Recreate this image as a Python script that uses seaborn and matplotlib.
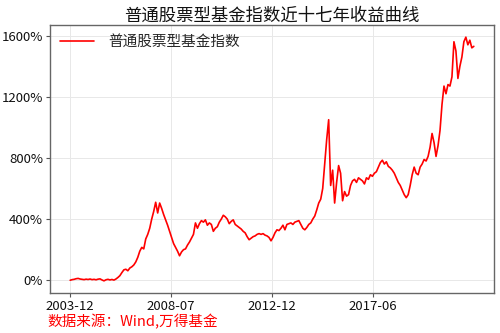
import matplotlib
matplotlib.use("Agg")
import matplotlib.pyplot as plt
from matplotlib.ticker import MultipleLocator, FuncFormatter
import seaborn as sns
import pandas as pd

title = "普通股票型基金指数近十七年收益曲线"
series_name = "普通股票型基金指数"
source_note = "数据来源：Wind,万得基金"
tick_labels = ["2003-12", "2008-07", "2012-12", "2017-06"]

# cumulative return (%) sampled at equal steps along the series
returns = [
    0, 4, 6, 10, 12, 8, 6, 4, 7, 5, 8, 4, 6, 3, 7, 9, 2, -4, 3, 6,
    2, 5, 1, 8, 18, 30, 50, 68, 72, 62, 80, 88, 100, 120, 150, 190, 215, 205, 270, 300,
    340, 400, 450, 510, 440, 505, 470, 430, 395, 360, 320, 280, 240, 215, 190, 160, 185, 200, 205, 230,
    250, 275, 300, 375, 340, 370, 390, 380, 395, 360, 375, 365, 320, 340, 350, 380, 400, 425, 415, 400,
    370, 385, 395, 365, 355, 345, 335, 320, 310, 285, 265, 275, 285, 290, 300, 305, 300, 305, 295, 290,
    280, 258, 280, 310, 330, 325, 340, 360, 330, 365, 370, 375, 365, 380, 385, 390, 365, 340, 330, 345,
    365, 375, 400, 420, 460, 505, 530, 600, 760, 920, 1050, 620, 720, 505, 640, 750, 700, 520, 580, 550,
    560, 620, 650, 660, 640, 670, 660, 650, 630, 670, 660, 690, 680, 700, 710, 740, 770, 785, 760, 775,
    745, 735, 720, 700, 670, 640, 620, 590, 560, 540, 560, 620, 690, 740, 700, 690, 740, 760, 790, 780,
    810, 870, 960, 900, 810, 880, 980, 1150, 1270, 1220, 1280, 1270, 1330, 1560, 1500, 1320, 1400, 1460, 1560, 1590,
    1540, 1570, 1520, 1530,
]

df = pd.DataFrame({"idx": range(len(returns)), "ret": returns})

sns.set_theme(style="whitegrid")
plt.rcParams["font.family"] = ["Noto Sans CJK SC", "DejaVu Sans"]
plt.rcParams["axes.unicode_minus"] = False

fig = plt.figure(figsize=(5.0, 3.33), dpi=100)
ax = fig.add_axes([0.1, 0.12, 0.888, 0.805])

sns.lineplot(data=df, x="idx", y="ret", ax=ax, color="#ff0000", linewidth=1.2, label=series_name)

n = len(returns) - 1
ax.set_xticks([n * i / 4 for i in range(len(tick_labels))])
ax.set_xticklabels(tick_labels)
ax.yaxis.set_major_locator(MultipleLocator(400))
ax.yaxis.set_major_formatter(FuncFormatter(lambda v, p: f"{v:.0f}%"))
ax.margins(x=0.05, y=0.05)

ax.set_xlabel("")
ax.set_ylabel("")
ax.set_title(title, fontsize=12.5, pad=3, color="#111111")
ax.tick_params(axis="both", labelsize=9.5, length=3, width=0.8, color="#555555", pad=2, colors="#111111")
ax.tick_params(axis="both", which="major", bottom=True, left=True)
for s in ax.spines.values():
    s.set_color("#666666")
    s.set_linewidth(1.0)
ax.grid(True, color="#e8e8e8", linewidth=0.7)

leg = ax.legend(loc="upper left", frameon=False, fontsize=10.5, handlelength=2.3,
                borderaxespad=0.3, handletextpad=1.0)

fig.text(0.094, 0.033, source_note, color="#ff0000", fontsize=10.5, va="center", ha="left")

fig.savefig("out.png", dpi=100)
